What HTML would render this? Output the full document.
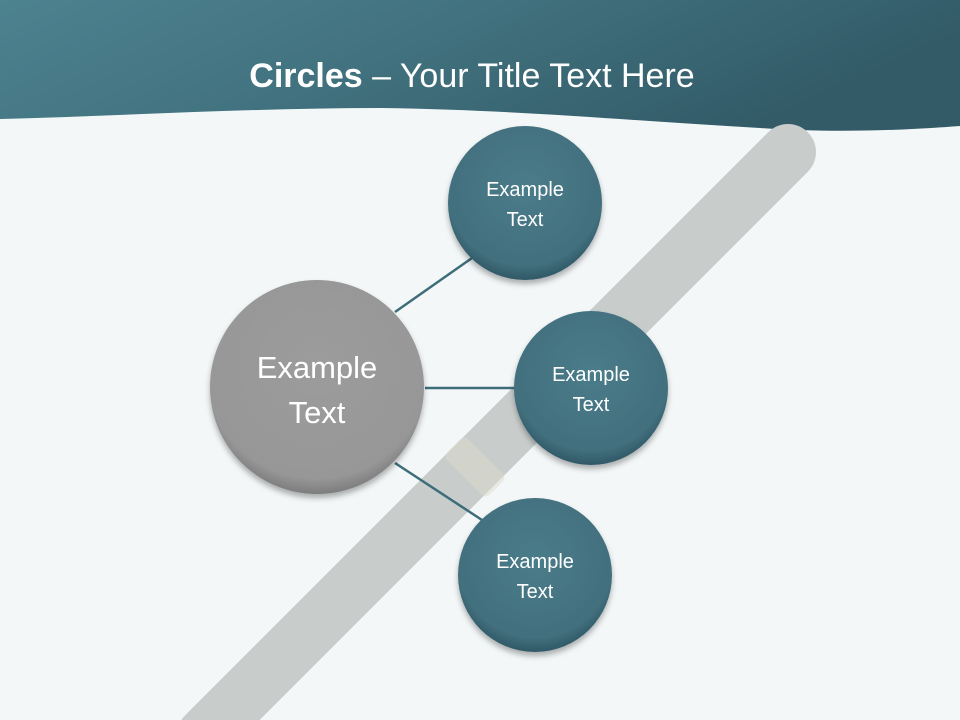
<!DOCTYPE html>
<html><head><meta charset="utf-8"><style>
html,body{margin:0;padding:0;width:960px;height:720px;overflow:hidden;background:#f3f7f8;}
svg{display:block}
</style></head><body>
<svg width="960" height="720" viewBox="0 0 960 720" xmlns="http://www.w3.org/2000/svg">
<defs>
<linearGradient id="hdr" x1="0" y1="0" x2="1" y2="0.3">
<stop offset="0" stop-color="#4d828f"/><stop offset="0.5" stop-color="#41717e"/><stop offset="1" stop-color="#325a67"/>
</linearGradient>
<radialGradient id="teal" cx="0.5" cy="0.4" r="0.6">
<stop offset="0" stop-color="#4a7c8a"/><stop offset="0.85" stop-color="#426f7d"/><stop offset="1" stop-color="#2f5866"/>
</radialGradient>
<radialGradient id="gray" cx="0.5" cy="0.4" r="0.6">
<stop offset="0" stop-color="#9c9c9c"/><stop offset="0.88" stop-color="#979797"/><stop offset="1" stop-color="#7d7d7d"/>
</radialGradient>
<filter id="sh" x="-20%" y="-20%" width="140%" height="150%"><feDropShadow dx="0" dy="4" stdDeviation="3" flood-color="#000" flood-opacity="0.3"/></filter>
</defs>
<rect width="960" height="720" fill="#f3f7f8"/>
<path d="M0,0 H960 V126 C880,132 820,132 760,128 C620,120 520,110 380,108 C250,108 120,116 0,119 Z" fill="url(#hdr)"/>
<text x="472" y="87" text-anchor="middle" font-family="Liberation Sans, sans-serif" font-size="34" fill="#fff"><tspan font-weight="bold">Circles</tspan> – Your Title Text Here</text>
<line x1="788" y1="152" x2="205" y2="735" stroke="#c8cdcc" stroke-width="56" stroke-linecap="round"/>
<rect x="445" y="452" width="60" height="30" rx="6" fill="#dcdccc" transform="rotate(45 475 467)" opacity="0.5"/>
<g stroke="#3e6d7a" stroke-width="2.5">
<line x1="395" y1="312" x2="472" y2="258"/>
<line x1="425" y1="388" x2="514" y2="388"/>
<line x1="395" y1="463" x2="482" y2="520"/>
</g>
<g filter="url(#sh)">
<circle cx="317" cy="387" r="107" fill="url(#gray)"/>
<circle cx="525" cy="203" r="77" fill="url(#teal)"/>
<circle cx="591" cy="388" r="77" fill="url(#teal)"/>
<circle cx="535" cy="575" r="77" fill="url(#teal)"/>
</g>
<g font-family="Liberation Sans, sans-serif" fill="#fff" text-anchor="middle">
<text x="317" y="378" font-size="31">Example</text>
<text x="317" y="423" font-size="31">Text</text>
<text x="525" y="196" font-size="20">Example</text>
<text x="525" y="226" font-size="20">Text</text>
<text x="591" y="381" font-size="20">Example</text>
<text x="591" y="411" font-size="20">Text</text>
<text x="535" y="568" font-size="20">Example</text>
<text x="535" y="598" font-size="20">Text</text>
</g>
</svg>
</body></html>
